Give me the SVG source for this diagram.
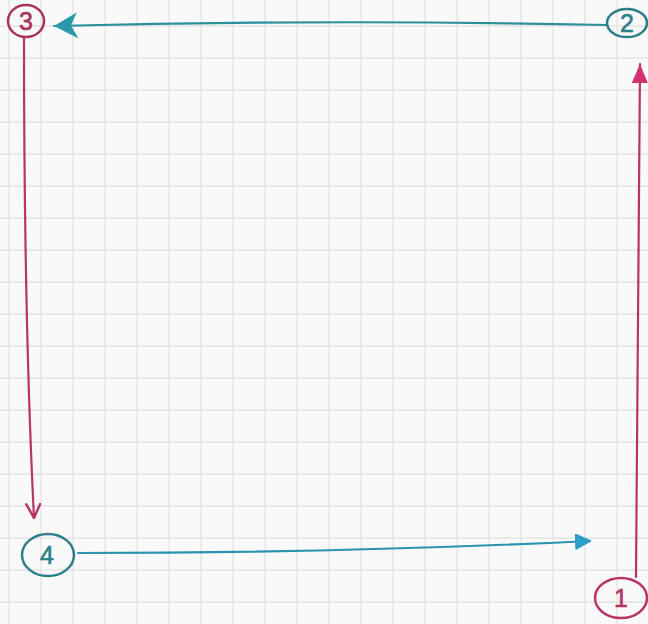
<svg xmlns="http://www.w3.org/2000/svg" width="648" height="624" viewBox="0 0 648 624">
<style>
.grid line{stroke:#e3e3e3;stroke-width:1.3}
.edge{fill:none;stroke-width:2.2;stroke-linecap:round}
.mag{stroke:#b8336a}
.teal{stroke:#2c8f9c}
.node ellipse{fill:none;stroke-width:2.5}
.node text{font-family:"Liberation Sans",Arial,sans-serif;font-size:25px;text-anchor:middle;stroke-width:0.6}
</style>
<defs>
<marker id="triMag" markerUnits="userSpaceOnUse" markerWidth="22" markerHeight="22" refX="19" refY="8" orient="auto">
<path d="M0,0 L19,8 L0,16 Z" fill="#d03272"/>
</marker>
<marker id="triTeal" markerUnits="userSpaceOnUse" markerWidth="28" markerHeight="28" refX="24" refY="13" orient="auto">
<path d="M0,0 L24,13 L1,26 L7,13 Z" fill="#2a9aaa"/>
</marker>
<marker id="vMag" markerUnits="userSpaceOnUse" markerWidth="20" markerHeight="20" refX="15" refY="8" orient="auto">
<path d="M1,1 L15,8 L1,15" fill="none" stroke="#b8336a" stroke-width="2.4" stroke-linecap="round" stroke-linejoin="round"/>
</marker>
<marker id="vTeal" markerUnits="userSpaceOnUse" markerWidth="20" markerHeight="20" refX="15" refY="8" orient="auto">
<path d="M1,1 L15,8 L1,15 Z" fill="#2aa0c4" stroke="#2aa0c4" stroke-width="2" stroke-linejoin="round"/>
</marker>
</defs>
<rect width="648" height="624" fill="#f9f9f9"/>
<g class="grid">
<line x1="9" y1="0" x2="9" y2="624"/><line x1="41" y1="0" x2="41" y2="624"/><line x1="73" y1="0" x2="73" y2="624"/><line x1="105" y1="0" x2="105" y2="624"/><line x1="137" y1="0" x2="137" y2="624"/><line x1="169" y1="0" x2="169" y2="624"/><line x1="201" y1="0" x2="201" y2="624"/><line x1="233" y1="0" x2="233" y2="624"/><line x1="265" y1="0" x2="265" y2="624"/><line x1="297" y1="0" x2="297" y2="624"/><line x1="329" y1="0" x2="329" y2="624"/><line x1="361" y1="0" x2="361" y2="624"/><line x1="393" y1="0" x2="393" y2="624"/><line x1="425" y1="0" x2="425" y2="624"/><line x1="457" y1="0" x2="457" y2="624"/><line x1="489" y1="0" x2="489" y2="624"/><line x1="521" y1="0" x2="521" y2="624"/><line x1="553" y1="0" x2="553" y2="624"/><line x1="585" y1="0" x2="585" y2="624"/><line x1="617" y1="0" x2="617" y2="624"/>
<line x1="0" y1="26" x2="648" y2="26"/><line x1="0" y1="58" x2="648" y2="58"/><line x1="0" y1="90" x2="648" y2="90"/><line x1="0" y1="122" x2="648" y2="122"/><line x1="0" y1="154" x2="648" y2="154"/><line x1="0" y1="186" x2="648" y2="186"/><line x1="0" y1="218" x2="648" y2="218"/><line x1="0" y1="250" x2="648" y2="250"/><line x1="0" y1="282" x2="648" y2="282"/><line x1="0" y1="314" x2="648" y2="314"/><line x1="0" y1="346" x2="648" y2="346"/><line x1="0" y1="378" x2="648" y2="378"/><line x1="0" y1="410" x2="648" y2="410"/><line x1="0" y1="442" x2="648" y2="442"/><line x1="0" y1="474" x2="648" y2="474"/><line x1="0" y1="506" x2="648" y2="506"/><line x1="0" y1="538" x2="648" y2="538"/><line x1="0" y1="570" x2="648" y2="570"/><line x1="0" y1="602" x2="648" y2="602"/>
</g>
<g id="connectors">
<path class="edge mag" d="M636,577 Q638,320 640,64" marker-end="url(#triMag)"/>
<path class="edge teal" d="M606,25 Q330,19 54,26" marker-end="url(#triTeal)"/>
<path class="edge mag" d="M24,38 Q24,320 34,518" marker-end="url(#vMag)"/>
<path class="edge teal" style="stroke:#2a94b0" d="M78,553 Q340,553 590,541" marker-end="url(#vTeal)"/>
</g>
<g id="node-1" class="node">
<ellipse cx="621" cy="598" rx="26" ry="20" stroke="#b8336a"/>
<text x="621" y="607" fill="#b8336a" stroke="#b8336a">1</text>
</g>
<g id="node-2" class="node">
<ellipse cx="627" cy="23" rx="20" ry="14" stroke="#2c7f88"/>
<text x="627" y="32" fill="#2c7f88" stroke="#2c7f88">2</text>
</g>
<g id="node-3" class="node">
<ellipse cx="26" cy="21" rx="18" ry="16" stroke="#a8345a"/>
<text x="26" y="30" fill="#a8345a" stroke="#a8345a">3</text>
</g>
<g id="node-4" class="node">
<ellipse cx="48" cy="555" rx="26" ry="21" stroke="#2c7f88"/>
<text x="47" y="564" fill="#2c7f88" stroke="#2c7f88">4</text>
</g>
</svg>
